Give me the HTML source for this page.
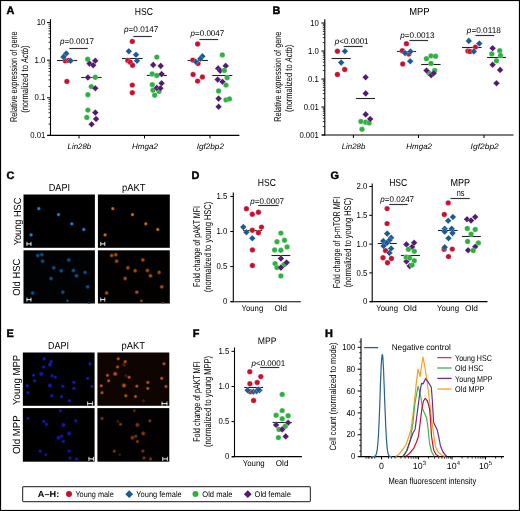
<!DOCTYPE html>
<html><head><meta charset="utf-8"><style>
html,body{margin:0;padding:0;background:#fff;}
body{width:520px;height:511px;overflow:hidden;}
svg{display:block;font-family:"Liberation Sans", sans-serif;text-rendering:geometricPrecision;will-change:transform;}
</style></head><body>
<svg width="520" height="511" viewBox="0 0 520 511">
<defs><radialGradient id="gC1"><stop offset="0" stop-color="#1a90e4"/><stop offset="0.4" stop-color="#1a90e4" stop-opacity="0.85"/><stop offset="0.75" stop-color="#1a90e4" stop-opacity="0.3"/><stop offset="1" stop-color="#1a90e4" stop-opacity="0"/></radialGradient><radialGradient id="gC2"><stop offset="0" stop-color="#e47412"/><stop offset="0.4" stop-color="#e47412" stop-opacity="0.85"/><stop offset="0.75" stop-color="#e47412" stop-opacity="0.3"/><stop offset="1" stop-color="#e47412" stop-opacity="0"/></radialGradient><radialGradient id="gC3"><stop offset="0" stop-color="#0e5892"/><stop offset="0.4" stop-color="#0e5892" stop-opacity="0.85"/><stop offset="0.75" stop-color="#0e5892" stop-opacity="0.3"/><stop offset="1" stop-color="#0e5892" stop-opacity="0"/></radialGradient><radialGradient id="gC4"><stop offset="0" stop-color="#a85610"/><stop offset="0.4" stop-color="#a85610" stop-opacity="0.85"/><stop offset="0.75" stop-color="#a85610" stop-opacity="0.3"/><stop offset="1" stop-color="#a85610" stop-opacity="0"/></radialGradient><radialGradient id="gE1"><stop offset="0" stop-color="#1a1ad0"/><stop offset="0.4" stop-color="#1a1ad0" stop-opacity="0.85"/><stop offset="0.75" stop-color="#1a1ad0" stop-opacity="0.3"/><stop offset="1" stop-color="#1a1ad0" stop-opacity="0"/></radialGradient><radialGradient id="gE2"><stop offset="0" stop-color="#c05818"/><stop offset="0.4" stop-color="#c05818" stop-opacity="0.85"/><stop offset="0.75" stop-color="#c05818" stop-opacity="0.3"/><stop offset="1" stop-color="#c05818" stop-opacity="0"/></radialGradient><radialGradient id="gE3"><stop offset="0" stop-color="#1616cc"/><stop offset="0.4" stop-color="#1616cc" stop-opacity="0.85"/><stop offset="0.75" stop-color="#1616cc" stop-opacity="0.3"/><stop offset="1" stop-color="#1616cc" stop-opacity="0"/></radialGradient><radialGradient id="gE4"><stop offset="0" stop-color="#843a12"/><stop offset="0.4" stop-color="#843a12" stop-opacity="0.85"/><stop offset="0.75" stop-color="#843a12" stop-opacity="0.3"/><stop offset="1" stop-color="#843a12" stop-opacity="0"/></radialGradient><filter id="gl" x="-100%" y="-100%" width="300%" height="300%"><feGaussianBlur stdDeviation="0.55"/></filter></defs>
<rect x="0" y="0" width="520" height="511" fill="#fff"/>
<rect x="0.5" y="0.5" width="519" height="510" fill="none" stroke="#000" stroke-width="1.2"/>
<text x="6.40" y="14.40" font-size="10.9" text-anchor="start" font-weight="bold" fill="#000" stroke="#000" stroke-width="0.45">A</text>
<text x="143.90" y="14.80" font-size="10.2" text-anchor="middle" textLength="18.2" lengthAdjust="spacingAndGlyphs">HSC</text>
<line x1="50.50" y1="19.20" x2="50.50" y2="135.90" stroke="#000" stroke-width="1.1"/>
<line x1="47.00" y1="22.60" x2="50.50" y2="22.60" stroke="#000" stroke-width="1"/>
<text x="45.40" y="25.20" font-size="8.7" text-anchor="end" textLength="8.63" lengthAdjust="spacingAndGlyphs">10</text>
<line x1="48.50" y1="48.88" x2="50.50" y2="48.88" stroke="#000" stroke-width="0.8"/>
<line x1="48.50" y1="42.26" x2="50.50" y2="42.26" stroke="#000" stroke-width="0.8"/>
<line x1="48.50" y1="37.56" x2="50.50" y2="37.56" stroke="#000" stroke-width="0.8"/>
<line x1="48.50" y1="33.92" x2="50.50" y2="33.92" stroke="#000" stroke-width="0.8"/>
<line x1="48.50" y1="30.94" x2="50.50" y2="30.94" stroke="#000" stroke-width="0.8"/>
<line x1="48.50" y1="28.42" x2="50.50" y2="28.42" stroke="#000" stroke-width="0.8"/>
<line x1="48.50" y1="26.24" x2="50.50" y2="26.24" stroke="#000" stroke-width="0.8"/>
<line x1="48.50" y1="24.32" x2="50.50" y2="24.32" stroke="#000" stroke-width="0.8"/>
<line x1="47.00" y1="60.20" x2="50.50" y2="60.20" stroke="#000" stroke-width="1"/>
<text x="45.40" y="62.80" font-size="8.7" text-anchor="end" textLength="10.79" lengthAdjust="spacingAndGlyphs">1.0</text>
<line x1="48.50" y1="86.48" x2="50.50" y2="86.48" stroke="#000" stroke-width="0.8"/>
<line x1="48.50" y1="79.86" x2="50.50" y2="79.86" stroke="#000" stroke-width="0.8"/>
<line x1="48.50" y1="75.16" x2="50.50" y2="75.16" stroke="#000" stroke-width="0.8"/>
<line x1="48.50" y1="71.52" x2="50.50" y2="71.52" stroke="#000" stroke-width="0.8"/>
<line x1="48.50" y1="68.54" x2="50.50" y2="68.54" stroke="#000" stroke-width="0.8"/>
<line x1="48.50" y1="66.02" x2="50.50" y2="66.02" stroke="#000" stroke-width="0.8"/>
<line x1="48.50" y1="63.84" x2="50.50" y2="63.84" stroke="#000" stroke-width="0.8"/>
<line x1="48.50" y1="61.92" x2="50.50" y2="61.92" stroke="#000" stroke-width="0.8"/>
<line x1="47.00" y1="97.80" x2="50.50" y2="97.80" stroke="#000" stroke-width="1"/>
<text x="45.40" y="100.40" font-size="8.7" text-anchor="end" textLength="10.79" lengthAdjust="spacingAndGlyphs">0.1</text>
<line x1="48.50" y1="124.08" x2="50.50" y2="124.08" stroke="#000" stroke-width="0.8"/>
<line x1="48.50" y1="117.46" x2="50.50" y2="117.46" stroke="#000" stroke-width="0.8"/>
<line x1="48.50" y1="112.76" x2="50.50" y2="112.76" stroke="#000" stroke-width="0.8"/>
<line x1="48.50" y1="109.12" x2="50.50" y2="109.12" stroke="#000" stroke-width="0.8"/>
<line x1="48.50" y1="106.14" x2="50.50" y2="106.14" stroke="#000" stroke-width="0.8"/>
<line x1="48.50" y1="103.62" x2="50.50" y2="103.62" stroke="#000" stroke-width="0.8"/>
<line x1="48.50" y1="101.44" x2="50.50" y2="101.44" stroke="#000" stroke-width="0.8"/>
<line x1="48.50" y1="99.52" x2="50.50" y2="99.52" stroke="#000" stroke-width="0.8"/>
<line x1="47.00" y1="135.40" x2="50.50" y2="135.40" stroke="#000" stroke-width="1"/>
<text x="45.40" y="138.00" font-size="8.7" text-anchor="end" textLength="15.1" lengthAdjust="spacingAndGlyphs">0.01</text>
<line x1="47.70" y1="135.40" x2="239.40" y2="135.40" stroke="#000" stroke-width="1.1"/>
<line x1="79.00" y1="135.40" x2="79.00" y2="138.40" stroke="#000" stroke-width="1"/>
<line x1="144.50" y1="135.40" x2="144.50" y2="138.40" stroke="#000" stroke-width="1"/>
<line x1="210.00" y1="135.40" x2="210.00" y2="138.40" stroke="#000" stroke-width="1"/>
<text x="79.40" y="148.80" font-size="7.9" text-anchor="middle" font-style="italic" textLength="23.6" lengthAdjust="spacingAndGlyphs">Lin28b</text>
<text x="145.00" y="148.80" font-size="7.9" text-anchor="middle" font-style="italic" textLength="26" lengthAdjust="spacingAndGlyphs">Hmga2</text>
<text x="210.30" y="148.80" font-size="7.9" text-anchor="middle" font-style="italic" textLength="27.3" lengthAdjust="spacingAndGlyphs">Igf2bp2</text>
<text x="17.0" y="76.7" font-size="9.8" text-anchor="middle" textLength="90.8" lengthAdjust="spacingAndGlyphs" transform="rotate(-90 17.0 76.7)">Relative expression of gene</text>
<text x="28.2" y="79.2" font-size="9.8" text-anchor="middle" textLength="67.3" lengthAdjust="spacingAndGlyphs" transform="rotate(-90 28.2 79.2)">(normalized to <tspan font-style="italic">Actb</tspan>)</text>
<text x="60" y="44.0" font-size="8.2" textLength="34" lengthAdjust="spacingAndGlyphs"><tspan font-style="italic">p</tspan>=0.0017</text>
<line x1="69.40" y1="48.50" x2="87.70" y2="48.50" stroke="#333" stroke-width="1.15"/>
<text x="124" y="32.1" font-size="8.2" textLength="34.4" lengthAdjust="spacingAndGlyphs"><tspan font-style="italic">p</tspan>=0.0147</text>
<line x1="133.30" y1="36.50" x2="151.80" y2="36.50" stroke="#333" stroke-width="1.15"/>
<text x="190.5" y="36.1" font-size="8.2" textLength="33.8" lengthAdjust="spacingAndGlyphs"><tspan font-style="italic">p</tspan>=0.0047</text>
<line x1="199.40" y1="39.50" x2="218.20" y2="39.50" stroke="#333" stroke-width="1.15"/>
<line x1="57.00" y1="60.50" x2="77.20" y2="60.50" stroke="#222" stroke-width="1.1"/>
<line x1="81.30" y1="77.50" x2="101.60" y2="77.50" stroke="#222" stroke-width="1.1"/>
<line x1="122.00" y1="58.50" x2="142.60" y2="58.50" stroke="#222" stroke-width="1.1"/>
<line x1="146.80" y1="75.50" x2="166.80" y2="75.50" stroke="#222" stroke-width="1.1"/>
<line x1="187.60" y1="60.50" x2="207.90" y2="60.50" stroke="#222" stroke-width="1.1"/>
<line x1="212.30" y1="75.50" x2="232.30" y2="75.50" stroke="#222" stroke-width="1.1"/>
<circle cx="65.3" cy="60.8" r="2.7" fill="#c8102e" stroke="#fff" stroke-width="0.25"/>
<circle cx="68.6" cy="60.4" r="2.7" fill="#c8102e" stroke="#fff" stroke-width="0.25"/>
<circle cx="66.9" cy="81.4" r="2.7" fill="#c8102e" stroke="#fff" stroke-width="0.25"/>
<path d="M66.2 50.300000000000004L69.5 53.6L66.2 56.9L62.900000000000006 53.6Z" fill="#1b5b94" stroke="#fff" stroke-width="0.25"/>
<path d="M63.5 53.6L66.8 56.9L63.5 60.199999999999996L60.2 56.9Z" fill="#1b5b94" stroke="#fff" stroke-width="0.25"/>
<path d="M70.6 57.5L73.89999999999999 60.8L70.6 64.1L67.3 60.8Z" fill="#1b5b94" stroke="#fff" stroke-width="0.25"/>
<circle cx="87.7" cy="59.2" r="2.7" fill="#2eb040" stroke="#fff" stroke-width="0.25"/>
<path d="M95.3 57.5L98.6 60.8L95.3 64.1L92.0 60.8Z" fill="#521b70" stroke="#fff" stroke-width="0.25"/>
<path d="M89.5 60.300000000000004L92.8 63.6L89.5 66.9L86.2 63.6Z" fill="#521b70" stroke="#fff" stroke-width="0.25"/>
<path d="M93.2 62.0L96.5 65.3L93.2 68.6L89.9 65.3Z" fill="#521b70" stroke="#fff" stroke-width="0.25"/>
<path d="M87.9 74.2L91.2 77.5L87.9 80.8L84.60000000000001 77.5Z" fill="#521b70" stroke="#fff" stroke-width="0.25"/>
<circle cx="95.3" cy="77.3" r="2.7" fill="#2eb040" stroke="#fff" stroke-width="0.25"/>
<circle cx="91.3" cy="86.6" r="2.7" fill="#2eb040" stroke="#fff" stroke-width="0.25"/>
<path d="M95.3 84.9L98.6 88.2L95.3 91.5L92.0 88.2Z" fill="#521b70" stroke="#fff" stroke-width="0.25"/>
<circle cx="87.9" cy="94.7" r="2.7" fill="#2eb040" stroke="#fff" stroke-width="0.25"/>
<circle cx="87.9" cy="110.1" r="2.7" fill="#2eb040" stroke="#fff" stroke-width="0.25"/>
<circle cx="86.8" cy="117.4" r="2.7" fill="#2eb040" stroke="#fff" stroke-width="0.25"/>
<path d="M95.3 109.3L98.6 112.6L95.3 115.89999999999999L92.0 112.6Z" fill="#521b70" stroke="#fff" stroke-width="0.25"/>
<path d="M96.1 115.7L99.39999999999999 119.0L96.1 122.3L92.8 119.0Z" fill="#521b70" stroke="#fff" stroke-width="0.25"/>
<path d="M91.6 120.9L94.89999999999999 124.2L91.6 127.5L88.3 124.2Z" fill="#521b70" stroke="#fff" stroke-width="0.25"/>
<circle cx="132.3" cy="41.4" r="2.7" fill="#c8102e" stroke="#fff" stroke-width="0.25"/>
<circle cx="127.8" cy="60.4" r="2.7" fill="#c8102e" stroke="#fff" stroke-width="0.25"/>
<circle cx="130.3" cy="62.2" r="2.7" fill="#c8102e" stroke="#fff" stroke-width="0.25"/>
<circle cx="132.6" cy="65.3" r="2.7" fill="#c8102e" stroke="#fff" stroke-width="0.25"/>
<path d="M128.8 47.900000000000006L132.10000000000002 51.2L128.8 54.5L125.50000000000001 51.2Z" fill="#1b5b94" stroke="#fff" stroke-width="0.25"/>
<path d="M136.0 51.400000000000006L139.3 54.7L136.0 58.0L132.7 54.7Z" fill="#1b5b94" stroke="#fff" stroke-width="0.25"/>
<path d="M137.0 57.5L140.3 60.8L137.0 64.1L133.7 60.8Z" fill="#1b5b94" stroke="#fff" stroke-width="0.25"/>
<circle cx="132.3" cy="85.1" r="2.7" fill="#c8102e" stroke="#fff" stroke-width="0.25"/>
<circle cx="132.3" cy="92.7" r="2.7" fill="#c8102e" stroke="#fff" stroke-width="0.25"/>
<circle cx="156.8" cy="57.1" r="2.7" fill="#2eb040" stroke="#fff" stroke-width="0.25"/>
<path d="M153.2 61.60000000000001L156.5 64.9L153.2 68.2L149.89999999999998 64.9Z" fill="#521b70" stroke="#fff" stroke-width="0.25"/>
<path d="M160.7 62.60000000000001L164.0 65.9L160.7 69.2L157.39999999999998 65.9Z" fill="#521b70" stroke="#fff" stroke-width="0.25"/>
<circle cx="152.2" cy="74.0" r="2.7" fill="#2eb040" stroke="#fff" stroke-width="0.25"/>
<circle cx="156.8" cy="75.5" r="2.7" fill="#2eb040" stroke="#fff" stroke-width="0.25"/>
<path d="M161.6 70.8L164.9 74.1L161.6 77.39999999999999L158.29999999999998 74.1Z" fill="#521b70" stroke="#fff" stroke-width="0.25"/>
<circle cx="152.3" cy="84.7" r="2.7" fill="#2eb040" stroke="#fff" stroke-width="0.25"/>
<path d="M161.6 79.9L164.9 83.2L161.6 86.5L158.29999999999998 83.2Z" fill="#521b70" stroke="#fff" stroke-width="0.25"/>
<circle cx="153.0" cy="90.2" r="2.7" fill="#2eb040" stroke="#fff" stroke-width="0.25"/>
<circle cx="159.0" cy="91.4" r="2.7" fill="#2eb040" stroke="#fff" stroke-width="0.25"/>
<circle cx="154.7" cy="95.2" r="2.7" fill="#2eb040" stroke="#fff" stroke-width="0.25"/>
<path d="M156.8 84.60000000000001L160.10000000000002 87.9L156.8 91.2L153.5 87.9Z" fill="#521b70" stroke="#fff" stroke-width="0.25"/>
<path d="M160.4 84.9L163.70000000000002 88.2L160.4 91.5L157.1 88.2Z" fill="#521b70" stroke="#fff" stroke-width="0.25"/>
<circle cx="197.6" cy="44.0" r="2.7" fill="#c8102e" stroke="#fff" stroke-width="0.25"/>
<circle cx="192.8" cy="60.1" r="2.7" fill="#c8102e" stroke="#fff" stroke-width="0.25"/>
<circle cx="198.0" cy="63.6" r="2.7" fill="#c8102e" stroke="#fff" stroke-width="0.25"/>
<path d="M202.4 53.0L205.70000000000002 56.3L202.4 59.599999999999994L199.1 56.3Z" fill="#1b5b94" stroke="#fff" stroke-width="0.25"/>
<path d="M200.3 55.5L203.60000000000002 58.8L200.3 62.099999999999994L197.0 58.8Z" fill="#1b5b94" stroke="#fff" stroke-width="0.25"/>
<path d="M195.8 58.5L199.10000000000002 61.8L195.8 65.1L192.5 61.8Z" fill="#1b5b94" stroke="#fff" stroke-width="0.25"/>
<circle cx="193.1" cy="74.5" r="2.7" fill="#c8102e" stroke="#fff" stroke-width="0.25"/>
<circle cx="202.4" cy="77.0" r="2.7" fill="#c8102e" stroke="#fff" stroke-width="0.25"/>
<circle cx="197.6" cy="81.1" r="2.7" fill="#c8102e" stroke="#fff" stroke-width="0.25"/>
<circle cx="222.3" cy="54.9" r="2.7" fill="#2eb040" stroke="#fff" stroke-width="0.25"/>
<path d="M225.7 62.60000000000001L229.0 65.9L225.7 69.2L222.39999999999998 65.9Z" fill="#521b70" stroke="#fff" stroke-width="0.25"/>
<path d="M218.2 65.10000000000001L221.5 68.4L218.2 71.7L214.89999999999998 68.4Z" fill="#521b70" stroke="#fff" stroke-width="0.25"/>
<path d="M220.2 67.4L223.5 70.7L220.2 74.0L216.89999999999998 70.7Z" fill="#521b70" stroke="#fff" stroke-width="0.25"/>
<circle cx="224.3" cy="70.4" r="2.7" fill="#2eb040" stroke="#fff" stroke-width="0.25"/>
<circle cx="227.1" cy="77.7" r="2.7" fill="#2eb040" stroke="#fff" stroke-width="0.25"/>
<path d="M217.7 76.3L221.0 79.6L217.7 82.89999999999999L214.39999999999998 79.6Z" fill="#521b70" stroke="#fff" stroke-width="0.25"/>
<path d="M222.5 78.5L225.8 81.8L222.5 85.1L219.2 81.8Z" fill="#521b70" stroke="#fff" stroke-width="0.25"/>
<circle cx="226.0" cy="85.1" r="2.7" fill="#2eb040" stroke="#fff" stroke-width="0.25"/>
<circle cx="218.6" cy="91.0" r="2.7" fill="#2eb040" stroke="#fff" stroke-width="0.25"/>
<circle cx="226.0" cy="99.9" r="2.7" fill="#2eb040" stroke="#fff" stroke-width="0.25"/>
<circle cx="229.5" cy="98.9" r="2.7" fill="#2eb040" stroke="#fff" stroke-width="0.25"/>
<path d="M218.6 95.3L221.9 98.6L218.6 101.89999999999999L215.29999999999998 98.6Z" fill="#521b70" stroke="#fff" stroke-width="0.25"/>
<path d="M218.6 103.4L221.9 106.7L218.6 110.0L215.29999999999998 106.7Z" fill="#521b70" stroke="#fff" stroke-width="0.25"/>
<text x="272.60" y="14.40" font-size="10.9" text-anchor="start" font-weight="bold" fill="#000" stroke="#000" stroke-width="0.45">B</text>
<text x="419.40" y="15.00" font-size="10.2" text-anchor="middle" textLength="20.4" lengthAdjust="spacingAndGlyphs">MPP</text>
<line x1="324.80" y1="19.20" x2="324.80" y2="135.50" stroke="#000" stroke-width="1.1"/>
<line x1="321.30" y1="23.00" x2="324.80" y2="23.00" stroke="#000" stroke-width="1"/>
<text x="318.80" y="25.60" font-size="8.7" text-anchor="end" textLength="8.63" lengthAdjust="spacingAndGlyphs">10</text>
<line x1="322.80" y1="42.57" x2="324.80" y2="42.57" stroke="#000" stroke-width="0.8"/>
<line x1="322.80" y1="37.64" x2="324.80" y2="37.64" stroke="#000" stroke-width="0.8"/>
<line x1="322.80" y1="34.14" x2="324.80" y2="34.14" stroke="#000" stroke-width="0.8"/>
<line x1="322.80" y1="31.43" x2="324.80" y2="31.43" stroke="#000" stroke-width="0.8"/>
<line x1="322.80" y1="29.21" x2="324.80" y2="29.21" stroke="#000" stroke-width="0.8"/>
<line x1="322.80" y1="27.34" x2="324.80" y2="27.34" stroke="#000" stroke-width="0.8"/>
<line x1="322.80" y1="25.71" x2="324.80" y2="25.71" stroke="#000" stroke-width="0.8"/>
<line x1="322.80" y1="24.28" x2="324.80" y2="24.28" stroke="#000" stroke-width="0.8"/>
<line x1="321.30" y1="51.00" x2="324.80" y2="51.00" stroke="#000" stroke-width="1"/>
<text x="318.80" y="53.60" font-size="8.7" text-anchor="end" textLength="10.79" lengthAdjust="spacingAndGlyphs">1.0</text>
<line x1="322.80" y1="70.57" x2="324.80" y2="70.57" stroke="#000" stroke-width="0.8"/>
<line x1="322.80" y1="65.64" x2="324.80" y2="65.64" stroke="#000" stroke-width="0.8"/>
<line x1="322.80" y1="62.14" x2="324.80" y2="62.14" stroke="#000" stroke-width="0.8"/>
<line x1="322.80" y1="59.43" x2="324.80" y2="59.43" stroke="#000" stroke-width="0.8"/>
<line x1="322.80" y1="57.21" x2="324.80" y2="57.21" stroke="#000" stroke-width="0.8"/>
<line x1="322.80" y1="55.34" x2="324.80" y2="55.34" stroke="#000" stroke-width="0.8"/>
<line x1="322.80" y1="53.71" x2="324.80" y2="53.71" stroke="#000" stroke-width="0.8"/>
<line x1="322.80" y1="52.28" x2="324.80" y2="52.28" stroke="#000" stroke-width="0.8"/>
<line x1="321.30" y1="79.00" x2="324.80" y2="79.00" stroke="#000" stroke-width="1"/>
<text x="318.80" y="81.60" font-size="8.7" text-anchor="end" textLength="10.79" lengthAdjust="spacingAndGlyphs">0.1</text>
<line x1="322.80" y1="98.57" x2="324.80" y2="98.57" stroke="#000" stroke-width="0.8"/>
<line x1="322.80" y1="93.64" x2="324.80" y2="93.64" stroke="#000" stroke-width="0.8"/>
<line x1="322.80" y1="90.14" x2="324.80" y2="90.14" stroke="#000" stroke-width="0.8"/>
<line x1="322.80" y1="87.43" x2="324.80" y2="87.43" stroke="#000" stroke-width="0.8"/>
<line x1="322.80" y1="85.21" x2="324.80" y2="85.21" stroke="#000" stroke-width="0.8"/>
<line x1="322.80" y1="83.34" x2="324.80" y2="83.34" stroke="#000" stroke-width="0.8"/>
<line x1="322.80" y1="81.71" x2="324.80" y2="81.71" stroke="#000" stroke-width="0.8"/>
<line x1="322.80" y1="80.28" x2="324.80" y2="80.28" stroke="#000" stroke-width="0.8"/>
<line x1="321.30" y1="107.00" x2="324.80" y2="107.00" stroke="#000" stroke-width="1"/>
<text x="318.80" y="109.60" font-size="8.7" text-anchor="end" textLength="15.1" lengthAdjust="spacingAndGlyphs">0.01</text>
<line x1="322.80" y1="126.57" x2="324.80" y2="126.57" stroke="#000" stroke-width="0.8"/>
<line x1="322.80" y1="121.64" x2="324.80" y2="121.64" stroke="#000" stroke-width="0.8"/>
<line x1="322.80" y1="118.14" x2="324.80" y2="118.14" stroke="#000" stroke-width="0.8"/>
<line x1="322.80" y1="115.43" x2="324.80" y2="115.43" stroke="#000" stroke-width="0.8"/>
<line x1="322.80" y1="113.21" x2="324.80" y2="113.21" stroke="#000" stroke-width="0.8"/>
<line x1="322.80" y1="111.34" x2="324.80" y2="111.34" stroke="#000" stroke-width="0.8"/>
<line x1="322.80" y1="109.71" x2="324.80" y2="109.71" stroke="#000" stroke-width="0.8"/>
<line x1="322.80" y1="108.28" x2="324.80" y2="108.28" stroke="#000" stroke-width="0.8"/>
<line x1="321.30" y1="135.00" x2="324.80" y2="135.00" stroke="#000" stroke-width="1"/>
<text x="318.80" y="137.60" font-size="8.7" text-anchor="end" textLength="19.42" lengthAdjust="spacingAndGlyphs">0.001</text>
<line x1="322.00" y1="135.00" x2="513.50" y2="135.00" stroke="#000" stroke-width="1.1"/>
<line x1="353.40" y1="135.00" x2="353.40" y2="138.00" stroke="#000" stroke-width="1"/>
<line x1="418.50" y1="135.00" x2="418.50" y2="138.00" stroke="#000" stroke-width="1"/>
<line x1="484.00" y1="135.00" x2="484.00" y2="138.00" stroke="#000" stroke-width="1"/>
<text x="353.50" y="148.60" font-size="7.9" text-anchor="middle" font-style="italic" textLength="23.6" lengthAdjust="spacingAndGlyphs">Lin28b</text>
<text x="419.20" y="148.60" font-size="7.9" text-anchor="middle" font-style="italic" textLength="25.7" lengthAdjust="spacingAndGlyphs">Hmga2</text>
<text x="484.70" y="148.60" font-size="7.9" text-anchor="middle" font-style="italic" textLength="28.2" lengthAdjust="spacingAndGlyphs">Igf2bp2</text>
<text x="281.3" y="76.7" font-size="9.8" text-anchor="middle" textLength="90.3" lengthAdjust="spacingAndGlyphs" transform="rotate(-90 281.3 76.7)">Relative expression of gene</text>
<text x="292.5" y="78.4" font-size="9.8" text-anchor="middle" textLength="67.3" lengthAdjust="spacingAndGlyphs" transform="rotate(-90 292.5 78.4)">(normalized to <tspan font-style="italic">Actb</tspan>)</text>
<text x="334.8" y="44.4" font-size="8.2" textLength="33.8" lengthAdjust="spacingAndGlyphs"><tspan font-style="italic">p</tspan>&lt;0.0001</text>
<line x1="343.60" y1="46.50" x2="362.70" y2="46.50" stroke="#333" stroke-width="1.15"/>
<text x="400.3" y="37.9" font-size="8.2" textLength="34.3" lengthAdjust="spacingAndGlyphs"><tspan font-style="italic">p</tspan>=0.0013</text>
<line x1="409.40" y1="40.50" x2="428.10" y2="40.50" stroke="#333" stroke-width="1.15"/>
<text x="466.8" y="33.3" font-size="8.2" textLength="34.1" lengthAdjust="spacingAndGlyphs"><tspan font-style="italic">p</tspan>=0.0118</text>
<line x1="475.40" y1="35.50" x2="494.20" y2="35.50" stroke="#333" stroke-width="1.15"/>
<line x1="331.60" y1="58.50" x2="350.80" y2="58.50" stroke="#222" stroke-width="1.1"/>
<line x1="356.10" y1="98.50" x2="375.00" y2="98.50" stroke="#222" stroke-width="1.1"/>
<line x1="397.00" y1="51.50" x2="416.10" y2="51.50" stroke="#222" stroke-width="1.1"/>
<line x1="421.20" y1="64.50" x2="440.60" y2="64.50" stroke="#222" stroke-width="1.1"/>
<line x1="462.00" y1="47.50" x2="481.60" y2="47.50" stroke="#222" stroke-width="1.1"/>
<line x1="487.10" y1="57.50" x2="505.90" y2="57.50" stroke="#222" stroke-width="1.1"/>
<circle cx="337.4" cy="51.2" r="2.7" fill="#c8102e" stroke="#fff" stroke-width="0.25"/>
<path d="M344.9 47.900000000000006L348.2 51.2L344.9 54.5L341.59999999999997 51.2Z" fill="#1b5b94" stroke="#fff" stroke-width="0.25"/>
<path d="M341.2 59.300000000000004L344.5 62.6L341.2 65.9L337.9 62.6Z" fill="#1b5b94" stroke="#fff" stroke-width="0.25"/>
<circle cx="344.7" cy="69.5" r="2.7" fill="#c8102e" stroke="#fff" stroke-width="0.25"/>
<circle cx="337.4" cy="74.5" r="2.7" fill="#c8102e" stroke="#fff" stroke-width="0.25"/>
<circle cx="360.9" cy="121.5" r="2.7" fill="#2eb040" stroke="#fff" stroke-width="0.25"/>
<circle cx="365.7" cy="122.2" r="2.7" fill="#2eb040" stroke="#fff" stroke-width="0.25"/>
<circle cx="369.1" cy="122.9" r="2.7" fill="#2eb040" stroke="#fff" stroke-width="0.25"/>
<circle cx="362.0" cy="129.3" r="2.7" fill="#2eb040" stroke="#fff" stroke-width="0.25"/>
<path d="M365.6 74.0L368.90000000000003 77.3L365.6 80.6L362.3 77.3Z" fill="#521b70" stroke="#fff" stroke-width="0.25"/>
<path d="M365.7 90.10000000000001L369.0 93.4L365.7 96.7L362.4 93.4Z" fill="#521b70" stroke="#fff" stroke-width="0.25"/>
<path d="M365.7 111.10000000000001L369.0 114.4L365.7 117.7L362.4 114.4Z" fill="#521b70" stroke="#fff" stroke-width="0.25"/>
<path d="M370.2 115.7L373.5 119.0L370.2 122.3L366.9 119.0Z" fill="#521b70" stroke="#fff" stroke-width="0.25"/>
<circle cx="406.4" cy="43.7" r="2.7" fill="#c8102e" stroke="#fff" stroke-width="0.25"/>
<circle cx="402.3" cy="50.8" r="2.7" fill="#c8102e" stroke="#fff" stroke-width="0.25"/>
<circle cx="408.8" cy="54.0" r="2.7" fill="#c8102e" stroke="#fff" stroke-width="0.25"/>
<path d="M405.0 49.800000000000004L408.3 53.1L405.0 56.4L401.7 53.1Z" fill="#1b5b94" stroke="#fff" stroke-width="0.25"/>
<path d="M410.5 48.2L413.8 51.5L410.5 54.8L407.2 51.5Z" fill="#1b5b94" stroke="#fff" stroke-width="0.25"/>
<circle cx="402.7" cy="64.0" r="2.7" fill="#c8102e" stroke="#fff" stroke-width="0.25"/>
<path d="M410.2 58.0L413.5 61.3L410.2 64.6L406.9 61.3Z" fill="#1b5b94" stroke="#fff" stroke-width="0.25"/>
<circle cx="426.4" cy="58.7" r="2.7" fill="#2eb040" stroke="#fff" stroke-width="0.25"/>
<circle cx="431.0" cy="55.9" r="2.7" fill="#2eb040" stroke="#fff" stroke-width="0.25"/>
<circle cx="435.6" cy="56.3" r="2.7" fill="#2eb040" stroke="#fff" stroke-width="0.25"/>
<circle cx="431.0" cy="63.4" r="2.7" fill="#2eb040" stroke="#fff" stroke-width="0.25"/>
<circle cx="429.2" cy="73.3" r="2.7" fill="#2eb040" stroke="#fff" stroke-width="0.25"/>
<circle cx="434.7" cy="70.5" r="2.7" fill="#2eb040" stroke="#fff" stroke-width="0.25"/>
<path d="M426.5 67.2L429.8 70.5L426.5 73.8L423.2 70.5Z" fill="#521b70" stroke="#fff" stroke-width="0.25"/>
<path d="M431.2 71.9L434.5 75.2L431.2 78.5L427.9 75.2Z" fill="#521b70" stroke="#fff" stroke-width="0.25"/>
<path d="M433.7 69.9L437.0 73.2L433.7 76.5L430.4 73.2Z" fill="#521b70" stroke="#fff" stroke-width="0.25"/>
<path d="M468.8 37.6L472.1 40.9L468.8 44.199999999999996L465.5 40.9Z" fill="#1b5b94" stroke="#fff" stroke-width="0.25"/>
<path d="M479.3 40.2L482.6 43.5L479.3 46.8L476.0 43.5Z" fill="#1b5b94" stroke="#fff" stroke-width="0.25"/>
<circle cx="475.4" cy="47.1" r="2.7" fill="#c8102e" stroke="#fff" stroke-width="0.25"/>
<circle cx="467.9" cy="51.0" r="2.7" fill="#c8102e" stroke="#fff" stroke-width="0.25"/>
<circle cx="469.9" cy="51.4" r="2.7" fill="#c8102e" stroke="#fff" stroke-width="0.25"/>
<path d="M473.8 48.1L477.1 51.4L473.8 54.699999999999996L470.5 51.4Z" fill="#1b5b94" stroke="#fff" stroke-width="0.25"/>
<path d="M492.6 44.900000000000006L495.90000000000003 48.2L492.6 51.5L489.3 48.2Z" fill="#521b70" stroke="#fff" stroke-width="0.25"/>
<circle cx="499.7" cy="50.7" r="2.7" fill="#2eb040" stroke="#fff" stroke-width="0.25"/>
<circle cx="491.8" cy="53.9" r="2.7" fill="#2eb040" stroke="#fff" stroke-width="0.25"/>
<circle cx="500.5" cy="55.4" r="2.7" fill="#2eb040" stroke="#fff" stroke-width="0.25"/>
<circle cx="496.5" cy="60.8" r="2.7" fill="#2eb040" stroke="#fff" stroke-width="0.25"/>
<path d="M492.6 61.5L495.90000000000003 64.8L492.6 68.1L489.3 64.8Z" fill="#521b70" stroke="#fff" stroke-width="0.25"/>
<path d="M500.1 66.60000000000001L503.40000000000003 69.9L500.1 73.2L496.8 69.9Z" fill="#521b70" stroke="#fff" stroke-width="0.25"/>
<path d="M496.5 79.9L499.8 83.2L496.5 86.5L493.2 83.2Z" fill="#521b70" stroke="#fff" stroke-width="0.25"/>
<text x="6.50" y="179.20" font-size="10.9" text-anchor="start" font-weight="bold" fill="#000" stroke="#000" stroke-width="0.45">C</text>
<text x="59.40" y="191.40" font-size="10.2" text-anchor="middle" textLength="21.3" lengthAdjust="spacingAndGlyphs">DAPI</text>
<text x="133.70" y="191.20" font-size="10.2" text-anchor="middle" textLength="23.6" lengthAdjust="spacingAndGlyphs">pAKT</text>
<text x="20.50" y="221.50" font-size="10.3" text-anchor="middle" textLength="47.7" lengthAdjust="spacingAndGlyphs" transform="rotate(-90 20.50 221.50)">Young HSC</text>
<text x="20.50" y="277.30" font-size="10.3" text-anchor="middle" textLength="36.9" lengthAdjust="spacingAndGlyphs" transform="rotate(-90 20.50 277.30)">Old HSC</text>
<rect x="23.5" y="194.5" width="71.4" height="53.3" fill="#000"/>
<svg x="23.5" y="194.5" width="71.4" height="53.3" viewBox="23.5 194.5 71.4 53.3" overflow="hidden">
<circle cx="38.8" cy="208.6" r="2.35" fill="url(#gC1)"/>
<circle cx="58.5" cy="214.6" r="2.35" fill="url(#gC1)"/>
<circle cx="71.8" cy="223.8" r="2.35" fill="url(#gC1)"/>
<circle cx="83.8" cy="229.5" r="2.35" fill="url(#gC1)"/>
<circle cx="31.1" cy="234.9" r="2.35" fill="url(#gC1)"/>
</svg>
<rect x="97.9" y="194.5" width="71.9" height="53.3" fill="#000"/>
<svg x="97.9" y="194.5" width="71.9" height="53.3" viewBox="97.9 194.5 71.9 53.3" overflow="hidden">
<circle cx="112.8" cy="208.6" r="2.3" fill="url(#gC2)"/>
<circle cx="132.5" cy="214.6" r="2.3" fill="url(#gC2)"/>
<circle cx="145.8" cy="223.8" r="2.3" fill="url(#gC2)"/>
<circle cx="157.8" cy="229.5" r="2.3" fill="url(#gC2)"/>
<circle cx="105.1" cy="234.9" r="2.3" fill="url(#gC2)"/>
</svg>
<rect x="23.5" y="250.3" width="71.4" height="53.2" fill="#010203"/>
<svg x="23.5" y="250.3" width="71.4" height="53.2" viewBox="23.5 250.3 71.4 53.2" overflow="hidden">
<circle cx="37.7" cy="255.5" r="2.6" fill="url(#gC3)"/>
<circle cx="41.8" cy="254.7" r="2.6" fill="url(#gC3)"/>
<circle cx="42.6" cy="261.2" r="2.6" fill="url(#gC3)"/>
<circle cx="68.8" cy="259.9" r="2.6" fill="url(#gC3)"/>
<circle cx="53.8" cy="267.8" r="2.6" fill="url(#gC3)"/>
<circle cx="61.2" cy="270.7" r="2.6" fill="url(#gC3)"/>
<circle cx="73.4" cy="270.5" r="2.6" fill="url(#gC3)"/>
<circle cx="85.1" cy="272.4" r="2.6" fill="url(#gC3)"/>
<circle cx="76.5" cy="275.8" r="2.7" fill="url(#gC3)"/>
<circle cx="51.1" cy="278.5" r="2.6" fill="url(#gC3)"/>
<circle cx="87.7" cy="286.8" r="2.6" fill="url(#gC3)"/>
<circle cx="32.6" cy="293" r="2.6" fill="url(#gC3)"/>
<circle cx="62.8" cy="292.2" r="2.6" fill="url(#gC3)"/>
<circle cx="67.4" cy="300.8" r="1.9500000000000002" fill="url(#gC3)"/>
<circle cx="88.9" cy="303.4" r="1.7999999999999998" fill="url(#gC3)"/>
</svg>
<rect x="97.9" y="250.3" width="71.9" height="53.2" fill="#030100"/>
<svg x="97.9" y="250.3" width="71.9" height="53.2" viewBox="97.9 250.3 71.9 53.2" overflow="hidden">
<circle cx="111.7" cy="255.5" r="2.6" fill="url(#gC4)"/>
<circle cx="115.8" cy="254.7" r="2.6" fill="url(#gC4)"/>
<circle cx="116.6" cy="261.2" r="2.6" fill="url(#gC4)"/>
<circle cx="142.8" cy="259.9" r="2.6" fill="url(#gC4)"/>
<circle cx="127.8" cy="267.8" r="2.6" fill="url(#gC4)"/>
<circle cx="135.2" cy="270.7" r="2.6" fill="url(#gC4)"/>
<circle cx="147.4" cy="270.5" r="2.6" fill="url(#gC4)"/>
<circle cx="159.1" cy="272.4" r="2.6" fill="url(#gC4)"/>
<circle cx="150.5" cy="275.8" r="2.7" fill="url(#gC4)"/>
<circle cx="125.1" cy="278.5" r="2.6" fill="url(#gC4)"/>
<circle cx="161.7" cy="286.8" r="2.6" fill="url(#gC4)"/>
<circle cx="106.6" cy="293" r="2.6" fill="url(#gC4)"/>
<circle cx="136.8" cy="292.2" r="2.6" fill="url(#gC4)"/>
<circle cx="141.4" cy="300.8" r="1.9500000000000002" fill="url(#gC4)"/>
<circle cx="162.9" cy="303.4" r="1.7999999999999998" fill="url(#gC4)"/>
</svg>
<line x1="26.50" y1="243.90" x2="31.40" y2="243.90" stroke="#e4e4e4" stroke-width="1.1"/>
<line x1="26.95" y1="241.80" x2="26.95" y2="246.00" stroke="#e4e4e4" stroke-width="0.9"/>
<line x1="30.95" y1="241.80" x2="30.95" y2="246.00" stroke="#e4e4e4" stroke-width="0.9"/>
<line x1="100.30" y1="243.90" x2="105.20" y2="243.90" stroke="#e4e4e4" stroke-width="1.1"/>
<line x1="100.75" y1="241.80" x2="100.75" y2="246.00" stroke="#e4e4e4" stroke-width="0.9"/>
<line x1="104.75" y1="241.80" x2="104.75" y2="246.00" stroke="#e4e4e4" stroke-width="0.9"/>
<line x1="26.50" y1="299.60" x2="31.40" y2="299.60" stroke="#e4e4e4" stroke-width="1.1"/>
<line x1="26.95" y1="297.50" x2="26.95" y2="301.70" stroke="#e4e4e4" stroke-width="0.9"/>
<line x1="30.95" y1="297.50" x2="30.95" y2="301.70" stroke="#e4e4e4" stroke-width="0.9"/>
<line x1="100.30" y1="299.60" x2="105.20" y2="299.60" stroke="#e4e4e4" stroke-width="1.1"/>
<line x1="100.75" y1="297.50" x2="100.75" y2="301.70" stroke="#e4e4e4" stroke-width="0.9"/>
<line x1="104.75" y1="297.50" x2="104.75" y2="301.70" stroke="#e4e4e4" stroke-width="0.9"/>
<text x="6.50" y="336.90" font-size="10.9" text-anchor="start" font-weight="bold" fill="#000" stroke="#000" stroke-width="0.45">E</text>
<text x="58.50" y="349.30" font-size="10.2" text-anchor="middle" textLength="21" lengthAdjust="spacingAndGlyphs">DAPI</text>
<text x="133.20" y="349.30" font-size="10.2" text-anchor="middle" textLength="23.6" lengthAdjust="spacingAndGlyphs">pAKT</text>
<text x="20.40" y="379.90" font-size="10.3" text-anchor="middle" textLength="50" lengthAdjust="spacingAndGlyphs" transform="rotate(-90 20.40 379.90)">Young MPP</text>
<text x="20.40" y="434.60" font-size="10.3" text-anchor="middle" textLength="38.9" lengthAdjust="spacingAndGlyphs" transform="rotate(-90 20.40 434.60)">Old MPP</text>
<rect x="22.85" y="352.5" width="71.75" height="53.3" fill="#000"/>
<svg x="22.85" y="352.5" width="71.75" height="53.3" viewBox="22.85 352.5 71.75 53.3" overflow="hidden">
<circle cx="44.2" cy="358.8" r="2.25" fill="url(#gE1)"/>
<circle cx="51.2" cy="361.6" r="2.25" fill="url(#gE1)"/>
<circle cx="50" cy="364.7" r="2.8499999999999996" fill="url(#gE1)"/>
<circle cx="43.5" cy="367" r="2.25" fill="url(#gE1)"/>
<circle cx="90" cy="363.8" r="2.25" fill="url(#gE1)"/>
<circle cx="33.5" cy="375.3" r="2.25" fill="url(#gE1)"/>
<circle cx="41.2" cy="373.9" r="2.8499999999999996" fill="url(#gE1)"/>
<circle cx="52" cy="375.8" r="2.25" fill="url(#gE1)"/>
<circle cx="55.1" cy="377.3" r="2.25" fill="url(#gE1)"/>
<circle cx="34.6" cy="380.8" r="2.25" fill="url(#gE1)"/>
<circle cx="87.7" cy="378.4" r="2.25" fill="url(#gE1)"/>
<circle cx="73.8" cy="382.4" r="2.25" fill="url(#gE1)"/>
<circle cx="27.2" cy="385.8" r="2.25" fill="url(#gE1)"/>
<circle cx="50" cy="385.5" r="2.8499999999999996" fill="url(#gE1)"/>
<circle cx="62.8" cy="386.2" r="2.25" fill="url(#gE1)"/>
<circle cx="92" cy="386.5" r="2.25" fill="url(#gE1)"/>
<circle cx="73.8" cy="388.4" r="2.25" fill="url(#gE1)"/>
<circle cx="28" cy="392.7" r="2.25" fill="url(#gE1)"/>
<circle cx="51.8" cy="395.8" r="2.25" fill="url(#gE1)"/>
<circle cx="61.5" cy="396.5" r="2.25" fill="url(#gE1)"/>
<circle cx="69.5" cy="400.8" r="2.25" fill="url(#gE1)"/>
</svg>
<rect x="97.4" y="352.5" width="71.9" height="53.3" fill="#0f0500"/>
<svg x="97.4" y="352.5" width="71.9" height="53.3" viewBox="97.4 352.5 71.9 53.3" overflow="hidden">
<circle cx="118.2" cy="358.8" r="2.25" fill="url(#gE2)" opacity="1"/>
<circle cx="125.2" cy="361.6" r="2.25" fill="url(#gE2)" opacity="1"/>
<circle cx="124" cy="364.7" r="2.8499999999999996" fill="url(#gE2)" opacity="0.35"/>
<circle cx="117.5" cy="367" r="2.25" fill="url(#gE2)" opacity="1"/>
<circle cx="164" cy="363.8" r="2.25" fill="url(#gE2)" opacity="1"/>
<circle cx="107.5" cy="375.3" r="2.25" fill="url(#gE2)" opacity="1"/>
<circle cx="115.2" cy="373.9" r="2.8499999999999996" fill="url(#gE2)" opacity="1"/>
<circle cx="126" cy="375.8" r="2.25" fill="url(#gE2)" opacity="0.3"/>
<circle cx="129.1" cy="377.3" r="2.25" fill="url(#gE2)" opacity="1"/>
<circle cx="108.6" cy="380.8" r="2.25" fill="url(#gE2)" opacity="1"/>
<circle cx="161.7" cy="378.4" r="2.25" fill="url(#gE2)" opacity="1"/>
<circle cx="147.8" cy="382.4" r="2.25" fill="url(#gE2)" opacity="1"/>
<circle cx="101.2" cy="385.8" r="2.25" fill="url(#gE2)" opacity="1"/>
<circle cx="124" cy="385.5" r="2.8499999999999996" fill="url(#gE2)" opacity="1"/>
<circle cx="136.8" cy="386.2" r="2.25" fill="url(#gE2)" opacity="1"/>
<circle cx="166" cy="386.5" r="2.25" fill="url(#gE2)" opacity="1"/>
<circle cx="147.8" cy="388.4" r="2.25" fill="url(#gE2)" opacity="1"/>
<circle cx="102" cy="392.7" r="2.25" fill="url(#gE2)" opacity="1"/>
<circle cx="125.8" cy="395.8" r="2.25" fill="url(#gE2)" opacity="1"/>
<circle cx="135.5" cy="396.5" r="2.25" fill="url(#gE2)" opacity="1"/>
<circle cx="143.5" cy="400.8" r="2.25" fill="url(#gE2)" opacity="0.3"/>
</svg>
<rect x="22.85" y="408.1" width="71.75" height="53.6" fill="#000"/>
<svg x="22.85" y="408.1" width="71.75" height="53.6" viewBox="22.85 408.1 71.75 53.6" overflow="hidden">
<circle cx="60.3" cy="410.8" r="2.25" fill="url(#gE3)"/>
<circle cx="28" cy="418.5" r="2.25" fill="url(#gE3)"/>
<circle cx="43.8" cy="421.5" r="2.25" fill="url(#gE3)"/>
<circle cx="46.5" cy="424.3" r="2.25" fill="url(#gE3)"/>
<circle cx="63.4" cy="424.9" r="2.8499999999999996" fill="url(#gE3)"/>
<circle cx="75.8" cy="420.8" r="2.25" fill="url(#gE3)"/>
<circle cx="69.2" cy="433.5" r="2.8499999999999996" fill="url(#gE3)"/>
<circle cx="58.5" cy="437.7" r="2.8499999999999996" fill="url(#gE3)"/>
<circle cx="61.8" cy="436.2" r="2.25" fill="url(#gE3)"/>
<circle cx="63.4" cy="441.5" r="2.25" fill="url(#gE3)"/>
<circle cx="40.3" cy="451.2" r="2.25" fill="url(#gE3)"/>
<circle cx="45.8" cy="454.6" r="1.9500000000000002" fill="url(#gE3)"/>
<circle cx="68.9" cy="451.1" r="2.25" fill="url(#gE3)"/>
<circle cx="70" cy="458" r="2.25" fill="url(#gE3)"/>
<circle cx="76.6" cy="458.9" r="2.25" fill="url(#gE3)"/>
</svg>
<rect x="97.4" y="408.1" width="71.9" height="53.6" fill="#020000"/>
<svg x="97.4" y="408.1" width="71.9" height="53.6" viewBox="97.4 408.1 71.9 53.6" overflow="hidden">
<circle cx="134.3" cy="410.8" r="2.25" fill="url(#gE4)" opacity="0.7"/>
<circle cx="102" cy="418.5" r="2.25" fill="url(#gE4)" opacity="1"/>
<circle cx="117.8" cy="421.5" r="2.25" fill="url(#gE4)" opacity="0.45"/>
<circle cx="120.5" cy="424.3" r="2.25" fill="url(#gE4)" opacity="1"/>
<circle cx="137.4" cy="424.9" r="2.8499999999999996" fill="url(#gE4)" opacity="1"/>
<circle cx="149.8" cy="420.8" r="2.25" fill="url(#gE4)" opacity="1"/>
<circle cx="143.2" cy="433.5" r="2.8499999999999996" fill="url(#gE4)" opacity="1"/>
<circle cx="132.5" cy="437.7" r="2.8499999999999996" fill="url(#gE4)" opacity="1"/>
<circle cx="135.8" cy="436.2" r="2.25" fill="url(#gE4)" opacity="1"/>
<circle cx="137.4" cy="441.5" r="2.25" fill="url(#gE4)" opacity="1"/>
<circle cx="114.3" cy="451.2" r="2.25" fill="url(#gE4)" opacity="1"/>
<circle cx="119.8" cy="454.6" r="1.9500000000000002" fill="url(#gE4)" opacity="0.5"/>
<circle cx="142.9" cy="451.1" r="2.25" fill="url(#gE4)" opacity="1"/>
<circle cx="144" cy="458" r="2.25" fill="url(#gE4)" opacity="1"/>
<circle cx="150.6" cy="458.9" r="2.25" fill="url(#gE4)" opacity="1"/>
</svg>
<line x1="87.20" y1="403.60" x2="93.00" y2="403.60" stroke="#e4e4e4" stroke-width="1.1"/>
<line x1="87.65" y1="401.50" x2="87.65" y2="405.70" stroke="#e4e4e4" stroke-width="0.9"/>
<line x1="92.55" y1="401.50" x2="92.55" y2="405.70" stroke="#e4e4e4" stroke-width="0.9"/>
<line x1="161.60" y1="403.60" x2="167.40" y2="403.60" stroke="#e4e4e4" stroke-width="1.1"/>
<line x1="162.05" y1="401.50" x2="162.05" y2="405.70" stroke="#e4e4e4" stroke-width="0.9"/>
<line x1="166.95" y1="401.50" x2="166.95" y2="405.70" stroke="#e4e4e4" stroke-width="0.9"/>
<line x1="88.50" y1="458.90" x2="94.00" y2="458.90" stroke="#e4e4e4" stroke-width="1.1"/>
<line x1="88.95" y1="456.80" x2="88.95" y2="461.00" stroke="#e4e4e4" stroke-width="0.9"/>
<line x1="93.55" y1="456.80" x2="93.55" y2="461.00" stroke="#e4e4e4" stroke-width="0.9"/>
<line x1="162.30" y1="458.90" x2="167.80" y2="458.90" stroke="#e4e4e4" stroke-width="1.1"/>
<line x1="162.75" y1="456.80" x2="162.75" y2="461.00" stroke="#e4e4e4" stroke-width="0.9"/>
<line x1="167.35" y1="456.80" x2="167.35" y2="461.00" stroke="#e4e4e4" stroke-width="0.9"/>
<text x="191.40" y="179.10" font-size="10.9" text-anchor="start" font-weight="bold" fill="#000" stroke="#000" stroke-width="0.45">D</text>
<text x="266.90" y="186.00" font-size="10.2" text-anchor="middle" textLength="18.1" lengthAdjust="spacingAndGlyphs">HSC</text>
<line x1="233.30" y1="192.40" x2="233.30" y2="302.20" stroke="#000" stroke-width="1.1"/>
<line x1="230.30" y1="196.40" x2="233.30" y2="196.40" stroke="#000" stroke-width="1"/>
<text x="227.20" y="199.00" font-size="8.7" text-anchor="end" textLength="10.79" lengthAdjust="spacingAndGlyphs">1.5</text>
<line x1="230.30" y1="231.50" x2="233.30" y2="231.50" stroke="#000" stroke-width="1"/>
<text x="227.20" y="234.10" font-size="8.7" text-anchor="end" textLength="10.79" lengthAdjust="spacingAndGlyphs">1.0</text>
<line x1="230.30" y1="266.60" x2="233.30" y2="266.60" stroke="#000" stroke-width="1"/>
<text x="227.20" y="269.20" font-size="8.7" text-anchor="end" textLength="10.79" lengthAdjust="spacingAndGlyphs">0.5</text>
<line x1="230.30" y1="301.70" x2="233.30" y2="301.70" stroke="#000" stroke-width="1"/>
<text x="227.20" y="304.30" font-size="8.7" text-anchor="end" textLength="4.32" lengthAdjust="spacingAndGlyphs">0</text>
<line x1="230.50" y1="301.70" x2="300.80" y2="301.70" stroke="#000" stroke-width="1.1"/>
<text x="252.40" y="310.90" font-size="8.4" text-anchor="middle" textLength="21.6" lengthAdjust="spacingAndGlyphs">Young</text>
<text x="280.70" y="310.90" font-size="8.4" text-anchor="middle" textLength="12.6" lengthAdjust="spacingAndGlyphs">Old</text>
<text x="200" y="246.4" font-size="9.8" text-anchor="middle" textLength="81" lengthAdjust="spacingAndGlyphs" transform="rotate(-90 200 246.4)">Fold change of pAKT MFI</text>
<text x="211" y="247" font-size="9.8" text-anchor="middle" textLength="90.5" lengthAdjust="spacingAndGlyphs" transform="rotate(-90 211 247)">(normalized to young HSC)</text>
<text x="250.3" y="203.7" font-size="8.2" textLength="33.8" lengthAdjust="spacingAndGlyphs"><tspan font-style="italic">p</tspan>=0.0007</text>
<line x1="258.10" y1="205.50" x2="278.60" y2="205.50" stroke="#333" stroke-width="1.15"/>
<line x1="243.00" y1="230.50" x2="262.20" y2="230.50" stroke="#222" stroke-width="1.1"/>
<line x1="271.50" y1="255.50" x2="290.30" y2="255.50" stroke="#222" stroke-width="1.1"/>
<circle cx="246.4" cy="208.8" r="2.7" fill="#c8102e" stroke="#fff" stroke-width="0.25"/>
<circle cx="252.3" cy="214.3" r="2.7" fill="#c8102e" stroke="#fff" stroke-width="0.25"/>
<circle cx="258.4" cy="212.3" r="2.7" fill="#c8102e" stroke="#fff" stroke-width="0.25"/>
<circle cx="261.5" cy="227.1" r="2.7" fill="#c8102e" stroke="#fff" stroke-width="0.25"/>
<circle cx="252.3" cy="230.2" r="2.7" fill="#c8102e" stroke="#fff" stroke-width="0.25"/>
<circle cx="258.4" cy="232.8" r="2.7" fill="#c8102e" stroke="#fff" stroke-width="0.25"/>
<path d="M243.3 223.79999999999998L246.60000000000002 227.1L243.3 230.4L240.0 227.1Z" fill="#1b5b94" stroke="#fff" stroke-width="0.25"/>
<path d="M246.4 229.0L249.70000000000002 232.3L246.4 235.60000000000002L243.1 232.3Z" fill="#1b5b94" stroke="#fff" stroke-width="0.25"/>
<path d="M252.3 235.0L255.60000000000002 238.3L252.3 241.60000000000002L249.0 238.3Z" fill="#1b5b94" stroke="#fff" stroke-width="0.25"/>
<circle cx="252.4" cy="249.9" r="2.7" fill="#c8102e" stroke="#fff" stroke-width="0.25"/>
<circle cx="252.4" cy="265.5" r="2.7" fill="#c8102e" stroke="#fff" stroke-width="0.25"/>
<circle cx="280.9" cy="233.1" r="2.7" fill="#2eb040" stroke="#fff" stroke-width="0.25"/>
<circle cx="277.0" cy="241.7" r="2.7" fill="#2eb040" stroke="#fff" stroke-width="0.25"/>
<circle cx="284.5" cy="240.2" r="2.7" fill="#2eb040" stroke="#fff" stroke-width="0.25"/>
<circle cx="287.1" cy="246.9" r="2.7" fill="#2eb040" stroke="#fff" stroke-width="0.25"/>
<circle cx="274.6" cy="250.0" r="2.7" fill="#2eb040" stroke="#fff" stroke-width="0.25"/>
<circle cx="280.9" cy="250.3" r="2.7" fill="#2eb040" stroke="#fff" stroke-width="0.25"/>
<circle cx="275.1" cy="263.6" r="2.7" fill="#2eb040" stroke="#fff" stroke-width="0.25"/>
<circle cx="284.0" cy="264.7" r="2.7" fill="#2eb040" stroke="#fff" stroke-width="0.25"/>
<circle cx="277.0" cy="267.6" r="2.7" fill="#2eb040" stroke="#fff" stroke-width="0.25"/>
<path d="M280.9 255.2L284.2 258.5L280.9 261.8L277.59999999999997 258.5Z" fill="#521b70" stroke="#fff" stroke-width="0.25"/>
<path d="M286.6 259.3L289.90000000000003 262.6L286.6 265.90000000000003L283.3 262.6Z" fill="#521b70" stroke="#fff" stroke-width="0.25"/>
<path d="M280.9 264.3L284.2 267.6L280.9 270.90000000000003L277.59999999999997 267.6Z" fill="#521b70" stroke="#fff" stroke-width="0.25"/>
<circle cx="280.9" cy="275.9" r="2.7" fill="#2eb040" stroke="#fff" stroke-width="0.25"/>
<text x="330.60" y="179.10" font-size="10.9" text-anchor="start" font-weight="bold" fill="#000" stroke="#000" stroke-width="0.45">G</text>
<text x="398.20" y="185.90" font-size="10.2" text-anchor="middle" textLength="18.1" lengthAdjust="spacingAndGlyphs">HSC</text>
<text x="460.30" y="185.90" font-size="10.2" text-anchor="middle" textLength="19.6" lengthAdjust="spacingAndGlyphs">MPP</text>
<line x1="372.20" y1="183.50" x2="372.20" y2="302.20" stroke="#000" stroke-width="1.1"/>
<line x1="369.20" y1="186.50" x2="372.20" y2="186.50" stroke="#000" stroke-width="1"/>
<text x="367.40" y="189.10" font-size="8.7" text-anchor="end" textLength="10.79" lengthAdjust="spacingAndGlyphs">2.0</text>
<line x1="369.20" y1="215.30" x2="372.20" y2="215.30" stroke="#000" stroke-width="1"/>
<text x="367.40" y="217.90" font-size="8.7" text-anchor="end" textLength="10.79" lengthAdjust="spacingAndGlyphs">1.5</text>
<line x1="369.20" y1="244.10" x2="372.20" y2="244.10" stroke="#000" stroke-width="1"/>
<text x="367.40" y="246.70" font-size="8.7" text-anchor="end" textLength="10.79" lengthAdjust="spacingAndGlyphs">1.0</text>
<line x1="369.20" y1="272.90" x2="372.20" y2="272.90" stroke="#000" stroke-width="1"/>
<text x="367.40" y="275.50" font-size="8.7" text-anchor="end" textLength="10.79" lengthAdjust="spacingAndGlyphs">0.5</text>
<line x1="369.20" y1="301.70" x2="372.20" y2="301.70" stroke="#000" stroke-width="1"/>
<text x="367.40" y="304.30" font-size="8.7" text-anchor="end" textLength="4.32" lengthAdjust="spacingAndGlyphs">0</text>
<line x1="370.00" y1="301.60" x2="487.50" y2="301.60" stroke="#000" stroke-width="1.1"/>
<text x="387.10" y="310.80" font-size="8.4" text-anchor="middle" textLength="21.7" lengthAdjust="spacingAndGlyphs">Young</text>
<text x="410.00" y="310.80" font-size="8.4" text-anchor="middle" textLength="13.5" lengthAdjust="spacingAndGlyphs">Old</text>
<text x="448.00" y="310.80" font-size="8.4" text-anchor="middle" textLength="22" lengthAdjust="spacingAndGlyphs">Young</text>
<text x="471.50" y="310.80" font-size="8.4" text-anchor="middle" textLength="13" lengthAdjust="spacingAndGlyphs">Old</text>
<text x="339.5" y="242.5" font-size="9.8" text-anchor="middle" textLength="91.4" lengthAdjust="spacingAndGlyphs" transform="rotate(-90 339.5 242.5)">Fold change of p-mTOR MFI</text>
<text x="351" y="242.5" font-size="9.8" text-anchor="middle" textLength="89.7" lengthAdjust="spacingAndGlyphs" transform="rotate(-90 351 242.5)">(normalized to young HSC)</text>
<text x="380.3" y="202.0" font-size="8.2" textLength="33.8" lengthAdjust="spacingAndGlyphs"><tspan font-style="italic">p</tspan>=0.0247</text>
<line x1="389.20" y1="204.50" x2="407.70" y2="204.50" stroke="#333" stroke-width="1.15"/>
<text x="460.60" y="195.90" font-size="9.4" text-anchor="middle" textLength="7.8" lengthAdjust="spacingAndGlyphs">ns</text>
<line x1="450.50" y1="198.50" x2="469.70" y2="198.50" stroke="#333" stroke-width="1.15"/>
<line x1="377.70" y1="243.50" x2="396.70" y2="243.50" stroke="#222" stroke-width="1.1"/>
<line x1="400.90" y1="255.50" x2="420.00" y2="255.50" stroke="#222" stroke-width="1.1"/>
<line x1="438.00" y1="230.50" x2="457.60" y2="230.50" stroke="#222" stroke-width="1.1"/>
<line x1="461.90" y1="236.50" x2="480.80" y2="236.50" stroke="#222" stroke-width="1.1"/>
<circle cx="387.1" cy="208.6" r="2.7" fill="#c8102e" stroke="#fff" stroke-width="0.25"/>
<circle cx="387.1" cy="223.6" r="2.7" fill="#c8102e" stroke="#fff" stroke-width="0.25"/>
<circle cx="385.5" cy="250.6" r="2.7" fill="#c8102e" stroke="#fff" stroke-width="0.25"/>
<circle cx="383.0" cy="257.8" r="2.7" fill="#c8102e" stroke="#fff" stroke-width="0.25"/>
<circle cx="391.4" cy="258.5" r="2.7" fill="#c8102e" stroke="#fff" stroke-width="0.25"/>
<circle cx="387.5" cy="262.7" r="2.7" fill="#c8102e" stroke="#fff" stroke-width="0.25"/>
<path d="M387.2 230.29999999999998L390.5 233.6L387.2 236.9L383.9 233.6Z" fill="#1b5b94" stroke="#fff" stroke-width="0.25"/>
<path d="M391.1 234.39999999999998L394.40000000000003 237.7L391.1 241.0L387.8 237.7Z" fill="#1b5b94" stroke="#fff" stroke-width="0.25"/>
<path d="M389.4 236.89999999999998L392.7 240.2L389.4 243.5L386.09999999999997 240.2Z" fill="#1b5b94" stroke="#fff" stroke-width="0.25"/>
<path d="M383.3 237.79999999999998L386.6 241.1L383.3 244.4L380.0 241.1Z" fill="#1b5b94" stroke="#fff" stroke-width="0.25"/>
<path d="M386.7 239.79999999999998L390.0 243.1L386.7 246.4L383.4 243.1Z" fill="#1b5b94" stroke="#fff" stroke-width="0.25"/>
<path d="M383.5 242.7L386.8 246.0L383.5 249.3L380.2 246.0Z" fill="#1b5b94" stroke="#fff" stroke-width="0.25"/>
<path d="M391.1 245.2L394.40000000000003 248.5L391.1 251.8L387.8 248.5Z" fill="#1b5b94" stroke="#fff" stroke-width="0.25"/>
<path d="M389.4 249.6L392.7 252.9L389.4 256.2L386.09999999999997 252.9Z" fill="#1b5b94" stroke="#fff" stroke-width="0.25"/>
<path d="M406.4 241.1L409.7 244.4L406.4 247.70000000000002L403.09999999999997 244.4Z" fill="#521b70" stroke="#fff" stroke-width="0.25"/>
<path d="M414.1 239.5L417.40000000000003 242.8L414.1 246.10000000000002L410.8 242.8Z" fill="#521b70" stroke="#fff" stroke-width="0.25"/>
<path d="M412.1 243.7L415.40000000000003 247.0L412.1 250.3L408.8 247.0Z" fill="#521b70" stroke="#fff" stroke-width="0.25"/>
<circle cx="408.4" cy="249.3" r="2.7" fill="#2eb040" stroke="#fff" stroke-width="0.25"/>
<circle cx="414.3" cy="251.2" r="2.7" fill="#2eb040" stroke="#fff" stroke-width="0.25"/>
<path d="M406.4 258.09999999999997L409.7 261.4L406.4 264.7L403.09999999999997 261.4Z" fill="#521b70" stroke="#fff" stroke-width="0.25"/>
<path d="M409.7 262.8L413.0 266.1L409.7 269.40000000000003L406.4 266.1Z" fill="#521b70" stroke="#fff" stroke-width="0.25"/>
<circle cx="406.2" cy="257.3" r="2.7" fill="#2eb040" stroke="#fff" stroke-width="0.25"/>
<circle cx="409.7" cy="258.1" r="2.7" fill="#2eb040" stroke="#fff" stroke-width="0.25"/>
<circle cx="414.3" cy="260.7" r="2.7" fill="#2eb040" stroke="#fff" stroke-width="0.25"/>
<circle cx="412.1" cy="265.1" r="2.7" fill="#2eb040" stroke="#fff" stroke-width="0.25"/>
<circle cx="448.2" cy="202.9" r="2.7" fill="#c8102e" stroke="#fff" stroke-width="0.25"/>
<circle cx="444.3" cy="214.4" r="2.7" fill="#c8102e" stroke="#fff" stroke-width="0.25"/>
<path d="M452.9 213.7L456.2 217.0L452.9 220.3L449.59999999999997 217.0Z" fill="#1b5b94" stroke="#fff" stroke-width="0.25"/>
<path d="M448.2 217.39999999999998L451.5 220.7L448.2 224.0L444.9 220.7Z" fill="#1b5b94" stroke="#fff" stroke-width="0.25"/>
<path d="M444.7 225.5L448.0 228.8L444.7 232.10000000000002L441.4 228.8Z" fill="#1b5b94" stroke="#fff" stroke-width="0.25"/>
<path d="M451.7 225.5L455.0 228.8L451.7 232.10000000000002L448.4 228.8Z" fill="#1b5b94" stroke="#fff" stroke-width="0.25"/>
<path d="M444.7 228.39999999999998L448.0 231.7L444.7 235.0L441.4 231.7Z" fill="#1b5b94" stroke="#fff" stroke-width="0.25"/>
<path d="M452.5 229.79999999999998L455.8 233.1L452.5 236.4L449.2 233.1Z" fill="#1b5b94" stroke="#fff" stroke-width="0.25"/>
<path d="M448.5 234.89999999999998L451.8 238.2L448.5 241.5L445.2 238.2Z" fill="#1b5b94" stroke="#fff" stroke-width="0.25"/>
<circle cx="444.1" cy="249.3" r="2.7" fill="#c8102e" stroke="#fff" stroke-width="0.25"/>
<circle cx="452.3" cy="249.1" r="2.7" fill="#c8102e" stroke="#fff" stroke-width="0.25"/>
<path d="M444.7 243.89999999999998L448.0 247.2L444.7 250.5L441.4 247.2Z" fill="#1b5b94" stroke="#fff" stroke-width="0.25"/>
<circle cx="448.5" cy="256.6" r="2.7" fill="#c8102e" stroke="#fff" stroke-width="0.25"/>
<path d="M467.0 216.0L470.3 219.3L467.0 222.60000000000002L463.7 219.3Z" fill="#521b70" stroke="#fff" stroke-width="0.25"/>
<path d="M471.1 217.2L474.40000000000003 220.5L471.1 223.8L467.8 220.5Z" fill="#521b70" stroke="#fff" stroke-width="0.25"/>
<path d="M475.2 213.7L478.5 217.0L475.2 220.3L471.9 217.0Z" fill="#521b70" stroke="#fff" stroke-width="0.25"/>
<circle cx="467.3" cy="228.5" r="2.7" fill="#2eb040" stroke="#fff" stroke-width="0.25"/>
<circle cx="475.2" cy="229.4" r="2.7" fill="#2eb040" stroke="#fff" stroke-width="0.25"/>
<circle cx="471.1" cy="234.1" r="2.7" fill="#2eb040" stroke="#fff" stroke-width="0.25"/>
<circle cx="467.6" cy="241.4" r="2.7" fill="#2eb040" stroke="#fff" stroke-width="0.25"/>
<circle cx="478.4" cy="242.9" r="2.7" fill="#2eb040" stroke="#fff" stroke-width="0.25"/>
<path d="M475.2 243.5L478.5 246.8L475.2 250.10000000000002L471.9 246.8Z" fill="#521b70" stroke="#fff" stroke-width="0.25"/>
<path d="M468.1 247.0L471.40000000000003 250.3L468.1 253.60000000000002L464.8 250.3Z" fill="#521b70" stroke="#fff" stroke-width="0.25"/>
<circle cx="473.2" cy="250.5" r="2.7" fill="#2eb040" stroke="#fff" stroke-width="0.25"/>
<text x="192.80" y="336.60" font-size="10.9" text-anchor="start" font-weight="bold" fill="#000" stroke="#000" stroke-width="0.45">F</text>
<text x="267.20" y="344.30" font-size="9.5" text-anchor="middle" textLength="18.7" lengthAdjust="spacingAndGlyphs">MPP</text>
<line x1="234.50" y1="347.50" x2="234.50" y2="457.10" stroke="#000" stroke-width="1.1"/>
<line x1="231.50" y1="351.35" x2="234.50" y2="351.35" stroke="#000" stroke-width="1"/>
<text x="229.20" y="353.95" font-size="8.7" text-anchor="end" textLength="10.79" lengthAdjust="spacingAndGlyphs">1.5</text>
<line x1="231.50" y1="386.50" x2="234.50" y2="386.50" stroke="#000" stroke-width="1"/>
<text x="229.20" y="389.10" font-size="8.7" text-anchor="end" textLength="10.79" lengthAdjust="spacingAndGlyphs">1.0</text>
<line x1="231.50" y1="421.65" x2="234.50" y2="421.65" stroke="#000" stroke-width="1"/>
<text x="229.20" y="424.25" font-size="8.7" text-anchor="end" textLength="10.79" lengthAdjust="spacingAndGlyphs">0.5</text>
<line x1="231.50" y1="456.80" x2="234.50" y2="456.80" stroke="#000" stroke-width="1"/>
<text x="229.20" y="459.40" font-size="8.7" text-anchor="end" textLength="4.32" lengthAdjust="spacingAndGlyphs">0</text>
<line x1="231.90" y1="456.60" x2="301.90" y2="456.60" stroke="#000" stroke-width="1.1"/>
<text x="253.70" y="465.80" font-size="8.4" text-anchor="middle" textLength="22" lengthAdjust="spacingAndGlyphs">Young</text>
<text x="282.10" y="465.80" font-size="8.4" text-anchor="middle" textLength="12.6" lengthAdjust="spacingAndGlyphs">Old</text>
<text x="199.6" y="401.5" font-size="9.8" text-anchor="middle" textLength="80.6" lengthAdjust="spacingAndGlyphs" transform="rotate(-90 199.6 401.5)">Fold change of pAKT MFI</text>
<text x="210.6" y="401.5" font-size="9.8" text-anchor="middle" textLength="91.2" lengthAdjust="spacingAndGlyphs" transform="rotate(-90 210.6 401.5)">(normalized to young MPP)</text>
<text x="251.5" y="365.6" font-size="8.2" textLength="33.7" lengthAdjust="spacingAndGlyphs"><tspan font-style="italic">p</tspan>&lt;0.0001</text>
<line x1="260.10" y1="367.50" x2="279.30" y2="367.50" stroke="#333" stroke-width="1.15"/>
<line x1="244.20" y1="387.50" x2="263.00" y2="387.50" stroke="#222" stroke-width="1.1"/>
<line x1="272.60" y1="422.50" x2="291.90" y2="422.50" stroke="#222" stroke-width="1.1"/>
<circle cx="249.8" cy="371.8" r="2.7" fill="#c8102e" stroke="#fff" stroke-width="0.25"/>
<circle cx="260.8" cy="376.6" r="2.7" fill="#c8102e" stroke="#fff" stroke-width="0.25"/>
<circle cx="257.2" cy="382.5" r="2.7" fill="#c8102e" stroke="#fff" stroke-width="0.25"/>
<circle cx="249.9" cy="383.8" r="2.7" fill="#c8102e" stroke="#fff" stroke-width="0.25"/>
<circle cx="250.3" cy="391.7" r="2.7" fill="#c8102e" stroke="#fff" stroke-width="0.25"/>
<path d="M247.6 387.0L250.9 390.3L247.6 393.6L244.29999999999998 390.3Z" fill="#1b5b94" stroke="#fff" stroke-width="0.25"/>
<path d="M253.4 388.4L256.7 391.7L253.4 395.0L250.1 391.7Z" fill="#1b5b94" stroke="#fff" stroke-width="0.25"/>
<path d="M256.5 387.8L259.8 391.1L256.5 394.40000000000003L253.2 391.1Z" fill="#1b5b94" stroke="#fff" stroke-width="0.25"/>
<path d="M259.5 386.9L262.8 390.2L259.5 393.5L256.2 390.2Z" fill="#1b5b94" stroke="#fff" stroke-width="0.25"/>
<path d="M258.4 386.2L261.7 389.5L258.4 392.8L255.09999999999997 389.5Z" fill="#1b5b94" stroke="#fff" stroke-width="0.25"/>
<circle cx="253.6" cy="400.5" r="2.7" fill="#c8102e" stroke="#fff" stroke-width="0.25"/>
<circle cx="282.2" cy="394.4" r="2.7" fill="#2eb040" stroke="#fff" stroke-width="0.25"/>
<circle cx="282.2" cy="410.6" r="2.7" fill="#2eb040" stroke="#fff" stroke-width="0.25"/>
<circle cx="276.1" cy="415.3" r="2.7" fill="#2eb040" stroke="#fff" stroke-width="0.25"/>
<circle cx="288.1" cy="415.8" r="2.7" fill="#2eb040" stroke="#fff" stroke-width="0.25"/>
<circle cx="282.2" cy="418.8" r="2.7" fill="#2eb040" stroke="#fff" stroke-width="0.25"/>
<path d="M276.1 421.59999999999997L279.40000000000003 424.9L276.1 428.2L272.8 424.9Z" fill="#521b70" stroke="#fff" stroke-width="0.25"/>
<path d="M288.1 419.5L291.40000000000003 422.8L288.1 426.1L284.8 422.8Z" fill="#521b70" stroke="#fff" stroke-width="0.25"/>
<circle cx="285.2" cy="426.3" r="2.7" fill="#2eb040" stroke="#fff" stroke-width="0.25"/>
<circle cx="279.0" cy="429.4" r="2.7" fill="#2eb040" stroke="#fff" stroke-width="0.25"/>
<path d="M282.2 426.09999999999997L285.5 429.4L282.2 432.7L278.9 429.4Z" fill="#521b70" stroke="#fff" stroke-width="0.25"/>
<circle cx="278.4" cy="437.6" r="2.7" fill="#2eb040" stroke="#fff" stroke-width="0.25"/>
<path d="M285.7 433.09999999999997L289.0 436.4L285.7 439.7L282.4 436.4Z" fill="#521b70" stroke="#fff" stroke-width="0.25"/>
<text x="325.10" y="336.60" font-size="10.9" text-anchor="start" font-weight="bold" fill="#000" stroke="#000" stroke-width="0.45">H</text>
<line x1="361.00" y1="338.30" x2="361.00" y2="457.10" stroke="#000" stroke-width="1.1"/>
<line x1="357.60" y1="456.60" x2="361.00" y2="456.60" stroke="#000" stroke-width="1"/>
<text x="355.20" y="459.30" font-size="8.7" text-anchor="end" textLength="4.32" lengthAdjust="spacingAndGlyphs">0</text>
<line x1="359.20" y1="451.14" x2="361.00" y2="451.14" stroke="#000" stroke-width="0.8"/>
<line x1="359.20" y1="445.67" x2="361.00" y2="445.67" stroke="#000" stroke-width="0.8"/>
<line x1="359.20" y1="440.21" x2="361.00" y2="440.21" stroke="#000" stroke-width="0.8"/>
<line x1="357.60" y1="434.74" x2="361.00" y2="434.74" stroke="#000" stroke-width="1"/>
<text x="355.20" y="437.44" font-size="8.7" text-anchor="end" textLength="8.63" lengthAdjust="spacingAndGlyphs">20</text>
<line x1="359.20" y1="429.28" x2="361.00" y2="429.28" stroke="#000" stroke-width="0.8"/>
<line x1="359.20" y1="423.81" x2="361.00" y2="423.81" stroke="#000" stroke-width="0.8"/>
<line x1="359.20" y1="418.35" x2="361.00" y2="418.35" stroke="#000" stroke-width="0.8"/>
<line x1="357.60" y1="412.88" x2="361.00" y2="412.88" stroke="#000" stroke-width="1"/>
<text x="355.20" y="415.58" font-size="8.7" text-anchor="end" textLength="8.63" lengthAdjust="spacingAndGlyphs">40</text>
<line x1="359.20" y1="407.42" x2="361.00" y2="407.42" stroke="#000" stroke-width="0.8"/>
<line x1="359.20" y1="401.95" x2="361.00" y2="401.95" stroke="#000" stroke-width="0.8"/>
<line x1="359.20" y1="396.49" x2="361.00" y2="396.49" stroke="#000" stroke-width="0.8"/>
<line x1="357.60" y1="391.02" x2="361.00" y2="391.02" stroke="#000" stroke-width="1"/>
<text x="355.20" y="393.72" font-size="8.7" text-anchor="end" textLength="8.63" lengthAdjust="spacingAndGlyphs">60</text>
<line x1="359.20" y1="385.56" x2="361.00" y2="385.56" stroke="#000" stroke-width="0.8"/>
<line x1="359.20" y1="380.09" x2="361.00" y2="380.09" stroke="#000" stroke-width="0.8"/>
<line x1="359.20" y1="374.62" x2="361.00" y2="374.62" stroke="#000" stroke-width="0.8"/>
<line x1="357.60" y1="369.16" x2="361.00" y2="369.16" stroke="#000" stroke-width="1"/>
<text x="355.20" y="371.86" font-size="8.7" text-anchor="end" textLength="8.63" lengthAdjust="spacingAndGlyphs">80</text>
<line x1="359.20" y1="363.70" x2="361.00" y2="363.70" stroke="#000" stroke-width="0.8"/>
<line x1="359.20" y1="358.23" x2="361.00" y2="358.23" stroke="#000" stroke-width="0.8"/>
<line x1="359.20" y1="352.77" x2="361.00" y2="352.77" stroke="#000" stroke-width="0.8"/>
<line x1="357.60" y1="347.30" x2="361.00" y2="347.30" stroke="#000" stroke-width="1"/>
<text x="355.20" y="350.00" font-size="8.7" text-anchor="end" textLength="12.95" lengthAdjust="spacingAndGlyphs">100</text>
<line x1="359.20" y1="341.84" x2="361.00" y2="341.84" stroke="#000" stroke-width="0.8"/>
<line x1="358.50" y1="456.60" x2="504.00" y2="456.60" stroke="#000" stroke-width="1.1"/>
<line x1="381.60" y1="456.60" x2="381.60" y2="459.40" stroke="#000" stroke-width="1"/>
<line x1="418.50" y1="456.60" x2="418.50" y2="459.40" stroke="#000" stroke-width="1"/>
<line x1="452.00" y1="456.60" x2="452.00" y2="459.40" stroke="#000" stroke-width="1"/>
<line x1="485.50" y1="456.60" x2="485.50" y2="459.40" stroke="#000" stroke-width="1"/>
<line x1="395.08" y1="456.60" x2="395.08" y2="458.60" stroke="#000" stroke-width="0.8"/>
<line x1="400.98" y1="456.60" x2="400.98" y2="458.60" stroke="#000" stroke-width="0.8"/>
<line x1="405.17" y1="456.60" x2="405.17" y2="458.60" stroke="#000" stroke-width="0.8"/>
<line x1="408.42" y1="456.60" x2="408.42" y2="458.60" stroke="#000" stroke-width="0.8"/>
<line x1="411.07" y1="456.60" x2="411.07" y2="458.60" stroke="#000" stroke-width="0.8"/>
<line x1="413.31" y1="456.60" x2="413.31" y2="458.60" stroke="#000" stroke-width="0.8"/>
<line x1="415.25" y1="456.60" x2="415.25" y2="458.60" stroke="#000" stroke-width="0.8"/>
<line x1="416.97" y1="456.60" x2="416.97" y2="458.60" stroke="#000" stroke-width="0.8"/>
<line x1="428.58" y1="456.60" x2="428.58" y2="458.60" stroke="#000" stroke-width="0.8"/>
<line x1="434.48" y1="456.60" x2="434.48" y2="458.60" stroke="#000" stroke-width="0.8"/>
<line x1="438.67" y1="456.60" x2="438.67" y2="458.60" stroke="#000" stroke-width="0.8"/>
<line x1="441.92" y1="456.60" x2="441.92" y2="458.60" stroke="#000" stroke-width="0.8"/>
<line x1="444.57" y1="456.60" x2="444.57" y2="458.60" stroke="#000" stroke-width="0.8"/>
<line x1="446.81" y1="456.60" x2="446.81" y2="458.60" stroke="#000" stroke-width="0.8"/>
<line x1="448.75" y1="456.60" x2="448.75" y2="458.60" stroke="#000" stroke-width="0.8"/>
<line x1="450.47" y1="456.60" x2="450.47" y2="458.60" stroke="#000" stroke-width="0.8"/>
<line x1="462.08" y1="456.60" x2="462.08" y2="458.60" stroke="#000" stroke-width="0.8"/>
<line x1="467.98" y1="456.60" x2="467.98" y2="458.60" stroke="#000" stroke-width="0.8"/>
<line x1="472.17" y1="456.60" x2="472.17" y2="458.60" stroke="#000" stroke-width="0.8"/>
<line x1="475.42" y1="456.60" x2="475.42" y2="458.60" stroke="#000" stroke-width="0.8"/>
<line x1="478.07" y1="456.60" x2="478.07" y2="458.60" stroke="#000" stroke-width="0.8"/>
<line x1="480.31" y1="456.60" x2="480.31" y2="458.60" stroke="#000" stroke-width="0.8"/>
<line x1="482.25" y1="456.60" x2="482.25" y2="458.60" stroke="#000" stroke-width="0.8"/>
<line x1="483.97" y1="456.60" x2="483.97" y2="458.60" stroke="#000" stroke-width="0.8"/>
<line x1="495.58" y1="456.60" x2="495.58" y2="458.60" stroke="#000" stroke-width="0.8"/>
<line x1="501.48" y1="456.60" x2="501.48" y2="458.60" stroke="#000" stroke-width="0.8"/>
<line x1="388.50" y1="456.60" x2="388.50" y2="458.60" stroke="#000" stroke-width="0.8"/>
<line x1="391.50" y1="456.60" x2="391.50" y2="458.60" stroke="#000" stroke-width="0.8"/>
<line x1="368.12" y1="456.60" x2="368.12" y2="458.60" stroke="#000" stroke-width="0.8"/>
<line x1="374.70" y1="456.60" x2="374.70" y2="458.60" stroke="#000" stroke-width="0.8"/>
<line x1="371.70" y1="456.60" x2="371.70" y2="458.60" stroke="#000" stroke-width="0.8"/>
<line x1="366.00" y1="456.60" x2="366.00" y2="458.60" stroke="#000" stroke-width="0.8"/>
<line x1="369.00" y1="456.60" x2="369.00" y2="458.60" stroke="#000" stroke-width="0.8"/>
<line x1="372.00" y1="456.60" x2="372.00" y2="458.60" stroke="#000" stroke-width="0.8"/>
<text x="381.40" y="468.60" font-size="8.8" text-anchor="middle">0</text>
<text x="419.4" y="468.6" font-size="8.8" text-anchor="middle">10<tspan font-size="6" dy="-3.7">3</tspan></text>
<text x="453.4" y="468.6" font-size="8.8" text-anchor="middle">10<tspan font-size="6" dy="-3.7">4</tspan></text>
<text x="485.5" y="468.6" font-size="8.8" text-anchor="middle">10<tspan font-size="6" dy="-3.7">5</tspan></text>
<text x="432.40" y="484.10" font-size="9.0" text-anchor="middle" textLength="87.7" lengthAdjust="spacingAndGlyphs">Mean fluorescent intensity</text>
<text x="336.40" y="396.40" font-size="9.3" text-anchor="middle" textLength="108" lengthAdjust="spacingAndGlyphs" transform="rotate(-90 336.40 396.40)">Cell count (normalized to mode)</text>
<line x1="364.10" y1="347.60" x2="378.20" y2="347.60" stroke="#2a5f94" stroke-width="1.3"/>
<text x="391.70" y="350.00" font-size="8.4" text-anchor="start" textLength="59.1" lengthAdjust="spacingAndGlyphs">Negative control</text>
<line x1="437.30" y1="357.60" x2="451.60" y2="357.60" stroke="#c8385a" stroke-width="1.3"/>
<text x="455.10" y="360.80" font-size="8.4" text-anchor="start" textLength="36.7" lengthAdjust="spacingAndGlyphs">Young HSC</text>
<line x1="437.30" y1="368.00" x2="451.60" y2="368.00" stroke="#48b050" stroke-width="1.3"/>
<text x="455.10" y="371.20" font-size="8.4" text-anchor="start" textLength="28.5" lengthAdjust="spacingAndGlyphs">Old HSC</text>
<line x1="437.30" y1="378.40" x2="451.60" y2="378.40" stroke="#6a2f8a" stroke-width="1.3"/>
<text x="455.10" y="381.60" font-size="8.4" text-anchor="start" textLength="37.5" lengthAdjust="spacingAndGlyphs">Young MPP</text>
<line x1="437.30" y1="389.00" x2="451.60" y2="389.00" stroke="#f5a020" stroke-width="1.3"/>
<text x="455.10" y="392.20" font-size="8.4" text-anchor="start" textLength="29.4" lengthAdjust="spacingAndGlyphs">Old MPP</text>
<path d="M371.0 456.6 L371.4 456.6 L371.7 456.6 L372.1 456.6 L372.4 456.6 L372.8 456.6 L373.1 456.6 L373.4 456.6 L373.8 456.5 L374.1 456.5 L374.5 456.4 L374.9 456.3 L375.2 456.0 L375.6 455.7 L375.9 455.1 L376.2 454.3 L376.6 453.0 L376.9 451.3 L377.3 448.9 L377.6 445.7 L378.0 441.5 L378.4 436.2 L378.7 429.8 L379.1 422.3 L379.4 413.7 L379.8 404.4 L380.1 394.6 L380.4 384.8 L380.8 375.6 L381.1 367.5 L381.5 360.9 L381.9 356.5 L382.2 354.5 L382.6 355.1 L382.9 358.1 L383.2 363.5 L383.6 370.8 L383.9 379.5 L384.3 389.0 L384.6 398.8 L385.0 408.5 L385.4 417.5 L385.7 425.6 L386.1 432.7 L386.4 438.6 L386.8 443.4 L387.1 447.1 L387.4 450.0 L387.8 452.1 L388.1 453.6 L388.5 454.7 L388.9 455.4 L389.2 455.9 L389.6 456.2 L389.9 456.3 L390.2 456.5 L390.6 456.5 L390.9 456.6 L391.3 456.6 L391.6 456.6 L392.0 456.6" fill="none" stroke="#2a5f94" stroke-width="1.2" stroke-linejoin="round"/>
<path d="M395.5 456.4 L398.0 455.0 L400.0 452.8 L403.5 448.5 L406.2 444.3 L409.0 436.0 L411.0 429.2 L413.0 415.0 L415.1 395.0 L416.6 380.0 L418.1 369.2 L420.1 376.5 L421.5 366.0 L423.0 357.0 L424.7 366.0 L426.4 376.5 L428.8 395.0 L431.0 415.0 L432.9 429.2 L435.6 447.0 L438.5 452.5 L442.0 455.3 L445.2 456.4" fill="none" stroke="#f5a020" stroke-width="1.2" stroke-linejoin="round"/>
<path d="M402.7 456.4 L406.5 451.0 L410.3 440.2 L413.0 422.4 L414.7 405.0 L416.4 395.0 L418.1 386.3 L420.5 395.0 L422.6 408.7 L426.7 418.3 L428.0 428.0 L429.5 443.0 L431.5 451.5 L434.2 456.4" fill="none" stroke="#48b050" stroke-width="1.2" stroke-linejoin="round"/>
<path d="M403.4 456.4 L407.0 450.5 L410.3 440.2 L413.0 433.0 L415.1 429.2 L417.8 408.7 L419.5 395.0 L421.5 383.4 L423.0 383.9 L425.6 378.5 L428.4 382.4 L431.3 387.3 L432.3 400.0 L433.6 422.4 L437.0 429.2 L439.0 438.0 L440.4 445.7 L443.0 452.0 L446.6 456.4" fill="none" stroke="#6a2f8a" stroke-width="1.2" stroke-linejoin="round"/>
<path d="M405.5 456.4 L409.5 453.5 L413.7 448.4 L416.5 442.0 L418.5 436.1 L420.5 420.0 L421.9 408.7 L423.5 401.0 L425.3 398.4 L427.5 401.0 L429.5 408.7 L430.5 420.0 L431.5 436.1 L433.6 449.8 L436.0 454.5 L439.0 456.4" fill="none" stroke="#c8103a" stroke-width="1.2" stroke-linejoin="round"/>
<rect x="22.6" y="486.6" width="287.8" height="15.1" rx="1.2" fill="none" stroke="#444" stroke-width="1.25"/>
<text x="37.80" y="496.90" font-size="8.8" text-anchor="start" font-weight="bold" textLength="21.4" lengthAdjust="spacingAndGlyphs" fill="#000">A–H:</text>
<circle cx="69" cy="494.1" r="3" fill="#c8102e"/>
<text x="75.40" y="497.40" font-size="8.2" text-anchor="start" textLength="38.4" lengthAdjust="spacingAndGlyphs">Young male</text>
<path d="M129.2 490.3L133.1 494.2L129.2 498.1L125.3 494.2Z" fill="#1b5b94"/>
<text x="136.30" y="497.40" font-size="8.2" text-anchor="start" textLength="45.4" lengthAdjust="spacingAndGlyphs">Young female</text>
<circle cx="195.5" cy="494.1" r="3" fill="#2eb040"/>
<text x="202.30" y="497.40" font-size="8.2" text-anchor="start" textLength="30.2" lengthAdjust="spacingAndGlyphs">Old male</text>
<path d="M247.8 490.3L251.7 494.2L247.8 498.1L243.9 494.2Z" fill="#521b70"/>
<text x="254.60" y="497.40" font-size="8.2" text-anchor="start" textLength="36.3" lengthAdjust="spacingAndGlyphs">Old female</text>
</svg></body></html>
